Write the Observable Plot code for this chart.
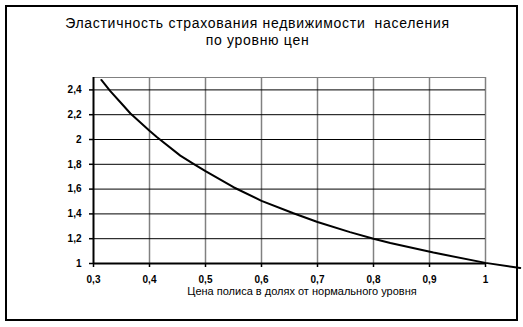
<!DOCTYPE html>
<html>
<head>
<meta charset="utf-8">
<script src="https://cdn.jsdelivr.net/npm/d3@7"></script>
<script src="https://cdn.jsdelivr.net/npm/@observablehq/plot@0.6"></script>
<style>
  html, body { margin: 0; padding: 0; background: #fff; }
  #wrap { position: relative; width: 523px; height: 327px; overflow: hidden; font-family: "Liberation Sans", Arial, sans-serif; }
  #box { position: absolute; left: 5px; top: 5px; width: 509px; height: 312px; border: 2px solid #000; }
  #title { position: absolute; left: 0; width: 515px; top: 15px; text-align: center; font-size: 14px; line-height: 17px; letter-spacing: 0.7px; color: #000; }
  #xlabel { position: absolute; left: 0; width: 604px; top: 285px; text-align: center; font-size: 11px; color: #000; }
  #chart { position: absolute; left: 0; top: 0; }
</style>
</head>
<body>
<div id="wrap">
  <div id="box"></div>
  <div id="title">Эластичность страхования недвижимости &nbsp;населения<br>по уровню цен</div>
  <div id="chart"></div>
  <div id="xlabel">Цена полиса в долях от нормального уровня</div>
</div>
<script>
// Data
const priceShare = [0.314, 0.33, 0.35, 0.366, 0.40, 0.413, 0.455, 0.48, 0.50, 0.55, 0.60, 0.657, 0.70, 0.758, 0.80, 0.83, 0.907, 1.0, 1.062];
const elasticity = [2.48, 2.39, 2.29, 2.21, 2.07, 2.02, 1.87, 1.80, 1.745, 1.615, 1.505, 1.405, 1.335, 1.253, 1.20, 1.166, 1.088, 1.005, 0.964];
const xTicks = [0.3, 0.4, 0.5, 0.6, 0.7, 0.8, 0.9, 1.0];
const xTickLabels = ["0,3", "0,4", "0,5", "0,6", "0,7", "0,8", "0,9", "1"];
const yTicks = [1, 1.2, 1.4, 1.6, 1.8, 2, 2.2, 2.4];
const yTickLabels = ["1", "1,2", "1,4", "1,6", "1,8", "2", "2,2", "2,4"];

const data = priceShare.map((x, i) => ({x, y: elasticity[i]}));
const xLab = new Map(xTicks.map((t, i) => [t, xTickLabels[i]]));
const yLab = new Map(yTicks.map((t, i) => [t, yTickLabels[i]]));

const chart = Plot.plot({
  width: 523,
  height: 327,
  marginLeft: 93,
  marginRight: 38,
  marginTop: 77,
  marginBottom: 64,
  style: {fontFamily: "'Liberation Sans', Arial, sans-serif", fontSize: "10px", background: "transparent", overflow: "visible"},
  x: {domain: [0.3, 1.0]},
  y: {domain: [1, 2.5]},
  marks: [
    Plot.ruleX(xTicks.slice(1), {stroke: "#808080", strokeWidth: 1.5, strokeOpacity: 1}),
    Plot.ruleY(yTicks.slice(1), {stroke: "#000", strokeWidth: 1, strokeOpacity: 1}),
    Plot.ruleY([2.5], {stroke: "#808080", strokeWidth: 1, strokeOpacity: 1}),
    Plot.axisX({ticks: xTicks, tickFormat: d => xLab.get(d), tickSize: 4, tickPadding: 8, fontWeight: "bold", label: null, stroke: "#000", strokeWidth: 1.5}),
    Plot.axisY({ticks: yTicks, tickFormat: d => yLab.get(d), tickSize: 4, tickPadding: 8, fontWeight: "bold", label: null, stroke: "#000", strokeWidth: 1.5}),
    Plot.ruleX([0.3], {stroke: "#000", strokeWidth: 2}),
    Plot.ruleY([1], {stroke: "#000", strokeWidth: 2}),
    Plot.line(data, {x: "x", y: "y", stroke: "#000", strokeWidth: 2, clip: false})
  ]
});
document.getElementById("chart").appendChild(chart);
</script>
</body>
</html>
